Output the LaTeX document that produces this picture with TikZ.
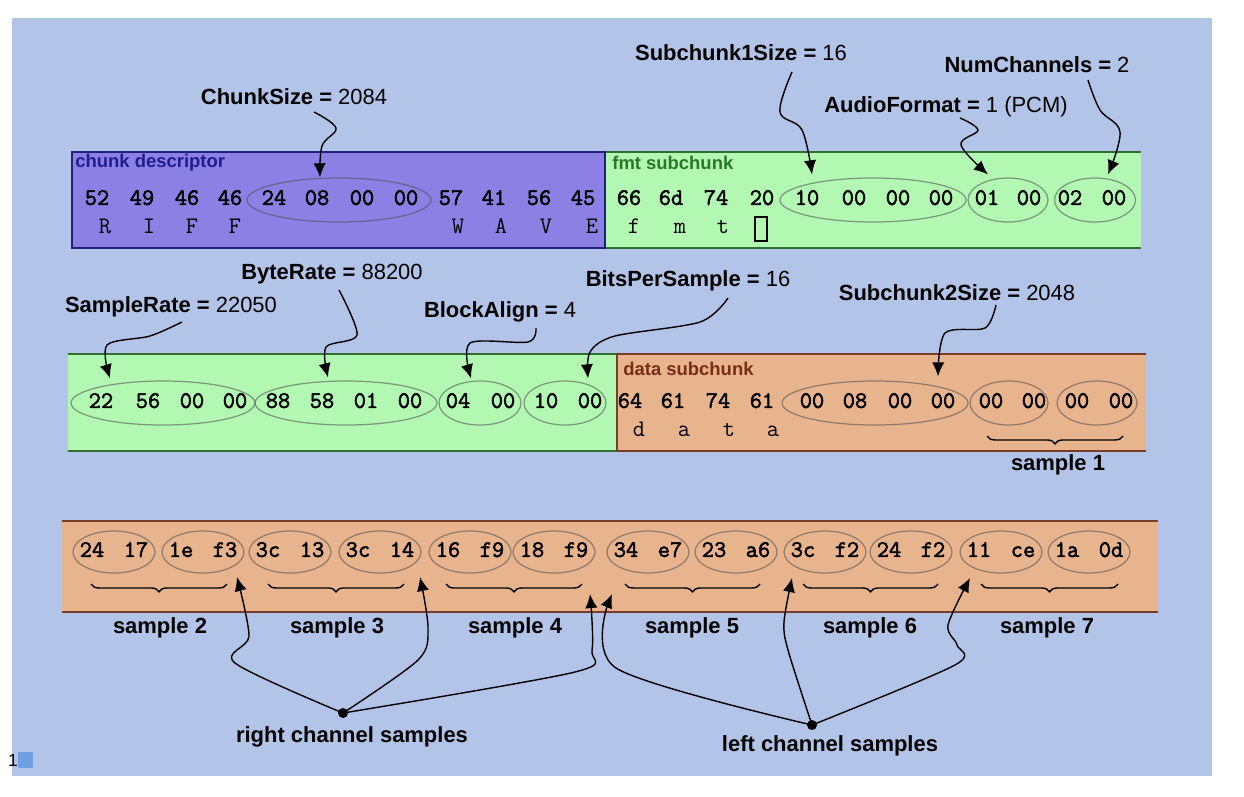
\documentclass[tikz,border=0pt]{standalone}
\usepackage{fontspec}
\setsansfont{Liberation Sans}
\setmonofont[AutoFakeBold=2.2]{Latin Modern Mono}
\usetikzlibrary{shapes.geometric,arrows.meta,decorations.pathreplacing,calc}
\definecolor{bgblue}{RGB}{178,196,232}
\definecolor{purp}{RGB}{140,128,228}
\definecolor{navy}{RGB}{32,32,120}
\definecolor{grn}{RGB}{178,248,178}
\definecolor{dkgrn}{RGB}{50,110,50}
\definecolor{orng}{RGB}{232,180,142}
\definecolor{brwn}{RGB}{120,60,40}
\definecolor{ttlblue}{RGB}{30,30,140}
\definecolor{ttlgrn}{RGB}{40,120,40}
\definecolor{ttlbrn}{RGB}{120,45,20}
\definecolor{sqblue}{RGB}{110,160,224}
\tikzset{
  lbl/.style={font=\fontsize{12.5}{14}\sffamily, inner sep=1pt, anchor=base},
  ttl/.style={font=\fontsize{10.5}{12}\sffamily\bfseries, inner sep=0pt, anchor=west},
  hex/.style={font=\fontsize{13.5}{15}\ttfamily\bfseries, inner sep=0pt, text height=1.5ex, text depth=0.2ex},
  chr/.style={font=\fontsize{13.5}{15}\ttfamily, inner sep=0pt, text height=1.5ex, text depth=0.2ex},
  oval/.style={ellipse, draw=black!70, draw opacity=0.55, line width=0.7pt, inner sep=0pt, minimum height=44*0.02cm},
  arr/.style={-{Latex[length=8pt,width=7pt]}, line width=0.8pt},
  smp/.style={font=\fontsize{12.5}{14}\sffamily\bfseries, inner sep=1pt},
  brc/.style={decorate, decoration={brace, mirror, amplitude=4.5pt}, line width=0.8pt},
  dot/.style={circle, fill=black, inner sep=0pt, minimum size=10*0.02cm}
}
\begin{document}
\begin{tikzpicture}[x=0.02cm, y=-0.02cm]
\useasboundingbox (0,0) rectangle (1244,796);
\fill[white] (0,0) rectangle (1244,796);
\fill[bgblue] (12,18) rectangle (1212,776);

\fill[purp] (72,152) rectangle (605,248);
\fill[grn] (605,152) rectangle (1141,248);
\draw[dkgrn, line width=1.2pt] (605,152) -- (1141,152) (605,248) -- (1141,248);
\draw[navy, line width=1.2pt] (72,152) rectangle (605,248);
\node[ttl, text=ttlblue] (tdesc) at (75,163) {chunk descriptor};
\node[ttl, text=ttlgrn] (tfmt) at (612,163) {fmt subchunk};

\fill[grn] (68,354) rectangle (617,451);
\fill[orng] (617,354) rectangle (1146,451);
\draw[dkgrn, line width=1.2pt] (68,354) -- (617,354) (68,451) -- (617,451);
\draw[brwn, line width=1.2pt] (617,354) -- (1146,354) (617,451) -- (1146,451) (617,354) -- (617,451);
\node[ttl, text=ttlbrn] (tdata) at (623,369) {data subchunk};

\fill[orng] (62,521) rectangle (1158,612);
\draw[brwn, line width=1.2pt] (62,521) -- (1158,521) (62,612) -- (1158,612);

\foreach \n/\x/\w in {cs/339/184,s1/873/186,af/1008/80,nc/1095/81}
  \node[oval, minimum width=\w*0.02cm] (\n) at (\x,200) {};
\foreach \n/\x/\w in {sr/163/184,br/346/182,ba/480/82,bp/565/82,s2/875/186,z1/1009/78,z2/1097/80}
  \node[oval, minimum width=\w*0.02cm] (\n) at (\x,403) {};

\foreach \x/\t [count=\i] in {97/52,142/49,187/46,230/46,274/24,317/08,362/00,406/00,451/57,494/41,539/56,583/45,629/66,671/6d,716/74,762/20,807/10,854/00,898/00,941/00,987/01,1029/00,1070/02,1114/00}
  \node[hex] (ha\i) at (\x,200) {\t};
\foreach \x/\t [count=\i] in {105/R,149/I,192/F,235/F,458/W,501/A,546/V,592/E,634/f,680/m,723/t}
  \node[chr] (ca\i) at (\x,229) {\t};
\node[draw, line width=0.8pt, inner sep=0pt, minimum width=12*0.02cm, minimum height=24*0.02cm] (spc) at (761,229) {};

\foreach \x/\t [count=\i] in {101/22,148/56,192/00,235/00,278/88,322/58,366/01,410/00,458/04,503/00,546/10,590/00,630/64,673/61,718/74,762/61,812/00,855/08,900/00,943/00,991/00,1034/00,1077/00,1121/00}
  \node[hex] (hb\i) at (\x,403) {\t};
\foreach \x/\t [count=\i] in {639/d,684/a,729/t,773/a}
  \node[chr] (cb\i) at (\x,432) {\t};

\foreach \x/\a/\b [count=\i] in {114/24/17,203/1e/f3,290/3c/13,380/3c/14,470/16/f9,554/18/f9,648/34/e7,736/23/a6,825/3c/f2,911/24/f2,1001/11/ce,1089/1a/0d}
{
  \node[oval, minimum width=82*0.02cm, minimum height=42*0.02cm] (p\i) at (\x,552) {};
  \node[hex] (p\i-a) at ({\x-22},552) {\a};
  \node[hex] (p\i-b) at ({\x+22},552) {\b};
}

\draw[brc] (987,436) -- (1123,436);
\node[smp] (smp1) at (1058,465) {sample 1};
\foreach \a/\b/\c/\k in {91/227/160/2,268/404/337/3,446/582/515/4,625/760/692/5,803/938/870/6,981/1118/1047/7}
{
  \draw[brc] (\a,584) -- (\b,584);
  \node[smp] (smp\k) at (\c,628) {sample \k};
}

\node[lbl] (lcs) at (294,104) {\textbf{ChunkSize =} 2084};
\node[lbl] (ls1) at (741,60) {\textbf{Subchunk1Size =} 16};
\node[lbl] (lnc) at (1037,72) {\textbf{NumChannels =} 2};
\node[lbl] (laf) at (946,112) {\textbf{AudioFormat =} 1 (PCM)};
\node[lbl] (lbr) at (332,279) {\textbf{ByteRate =} 88200};
\node[lbl] (lsr) at (171,312) {\textbf{SampleRate =} 22050};
\node[lbl] (lba) at (500,317) {\textbf{BlockAlign =} 4};
\node[lbl] (lbp) at (688,286) {\textbf{BitsPerSample =} 16};
\node[lbl] (ls2) at (957,300) {\textbf{Subchunk2Size =} 2048};

\draw[arr] plot[smooth, tension=0.6] coordinates {($(lcs.base)+(20,8)$) (336,128) (322,146) ($(cs.north)+(-19,0)$)};
\draw[arr] plot[smooth, tension=0.6] coordinates {($(ls1.base)+(51,12)$) (780,112) (802,130) ($(s1.north)+(-61,-3)$)};
\draw[arr] plot[smooth, tension=0.6] coordinates {($(laf.base)+(14,6)$) (978,130) (961,145) ($(af.north)+(-20,-3)$)};
\draw[arr] plot[smooth, tension=0.6] coordinates {($(lnc.base)+(51,8)$) (1100,110) (1120,132) ($(nc.north)+(13,-3)$)};
\draw[arr] plot[smooth, tension=0.5] coordinates {($(lsr.base)+(11,10)$) (150,336) (107,345) ($(sr.north)+(-53,-2)$)};
\draw[arr] plot[smooth, tension=0.5] coordinates {($(lbr.base)+(7,11)$) (357,335) (326,347) ($(br.north)+(-18,-3)$)};
\draw[arr] plot[smooth, tension=0.5] coordinates {($(lba.base)+(36,11)$) (528,342) (470,343) ($(ba.north)+(-9,-2)$)};
\draw[arr] plot[smooth, tension=0.5] coordinates {($(lbp.base)+(40,12)$) (700,322) (615,336) (590,352) ($(bp.north)+(23,-2)$)};
\draw[arr] plot[smooth, tension=0.5] coordinates {($(ls2.base)+(39,5)$) (985,328) (945,333) ($(s2.north)+(63,-4)$)};

\node[dot] (rch) at (343,713) {};
\node[dot] (lch) at (812,725) {};
\node[smp] (rlab) at (352,737) {right channel samples};
\node[smp] (llab) at (830,746) {left channel samples};
\foreach \n/\x/\y in {ta/237/577,tb/420/577,tc/590/594,td/612/594,te/792/578,tf/970/578}
  \coordinate (\n) at (\x,\y);
\draw[arr] plot[smooth, tension=0.5] coordinates {(rch) (235,663) (249,636) (ta)};
\draw[arr] plot[smooth, tension=0.5] coordinates {(rch) (418,660) (428,628) (tb)};
\draw[arr] plot[smooth, tension=0.5] coordinates {(rch) (575,672) (592,650) (tc)};
\draw[arr] plot[smooth, tension=0.5] coordinates {(lch) (616,668) (td)};
\draw[arr] plot[smooth, tension=0.5] coordinates {(lch) (788,650) (784,622) (te)};
\draw[arr] plot[smooth, tension=0.5] coordinates {(lch) (955,665) (957,645) (948,625) (tf)};

\node[font=\fontsize{10}{12}\sffamily, inner sep=0pt] (pgno) at (13,760) {1};
\fill[sqblue] (18,752) rectangle (33,768);
\end{tikzpicture}
\end{document}
